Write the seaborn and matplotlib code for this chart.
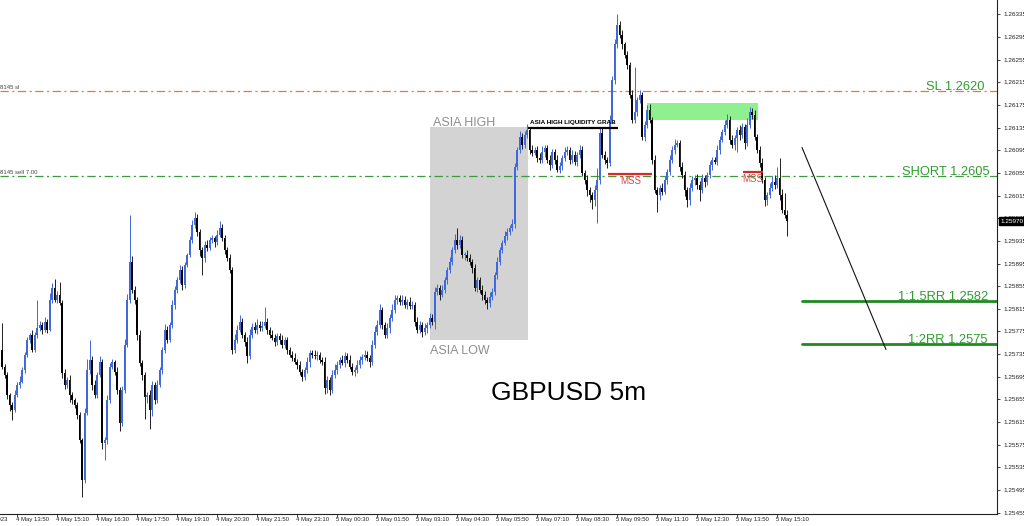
import numpy as np
import pandas as pd
import matplotlib
matplotlib.use("Agg")
import matplotlib.pyplot as plt
import matplotlib.transforms as mtransforms
from matplotlib.patches import Rectangle
import seaborn as sns

# ---------------- data ----------------
first_open = 1.25742
closes = [
    1.25713, 1.25698, 1.25663, 1.25645, 1.25637, 1.25663, 1.25681, 1.25686, 1.25707, 1.25734,
    1.25760, 1.25769, 1.25743, 1.25769, 1.25781, 1.25787, 1.25778, 1.25792, 1.25778, 1.25831,
    1.25852, 1.25831, 1.25840, 1.25826, 1.25702, 1.25681, 1.25690, 1.25663, 1.25654, 1.25645,
    1.25628, 1.25584, 1.25513, 1.25631, 1.25707, 1.25725, 1.25681, 1.25663, 1.25698, 1.25721,
    1.25578, 1.25584, 1.25654, 1.25713, 1.25721, 1.25704, 1.25672, 1.25614, 1.25672, 1.25751,
    1.25831, 1.25898, 1.25849, 1.25831, 1.25769, 1.25720, 1.25698, 1.25660, 1.25663, 1.25637,
    1.25681, 1.25654, 1.25681, 1.25707, 1.25743, 1.25778, 1.25760, 1.25787, 1.25822, 1.25849,
    1.25866, 1.25884, 1.25857, 1.25893, 1.25910, 1.25937, 1.25963, 1.25976, 1.25951, 1.25919,
    1.25905, 1.25928, 1.25923, 1.25937, 1.25940, 1.25933, 1.25946, 1.25958, 1.25940, 1.25919,
    1.25905, 1.25884, 1.25743, 1.25760, 1.25778, 1.25792, 1.25769, 1.25757, 1.25732, 1.25769,
    1.25783, 1.25778, 1.25787, 1.25781, 1.25785, 1.25792, 1.25778, 1.25769, 1.25764, 1.25757,
    1.25767, 1.25760, 1.25751, 1.25760, 1.25743, 1.25734, 1.25728, 1.25721, 1.25716, 1.25704,
    1.25695, 1.25707, 1.25721, 1.25737, 1.25734, 1.25732, 1.25734, 1.25725, 1.25721, 1.25675,
    1.25690, 1.25672, 1.25698, 1.25707, 1.25716, 1.25725, 1.25720, 1.25732, 1.25725, 1.25713,
    1.25704, 1.25707, 1.25716, 1.25725, 1.25730, 1.25734, 1.25728, 1.25721, 1.25751, 1.25774,
    1.25787, 1.25813, 1.25787, 1.25769, 1.25781, 1.25799, 1.25813, 1.25831, 1.25834, 1.25827,
    1.25831, 1.25822, 1.25827, 1.25820, 1.25822, 1.25792, 1.25778, 1.25787, 1.25774, 1.25781,
    1.25787, 1.25799, 1.25792, 1.25845, 1.25852, 1.25840, 1.25849, 1.25866, 1.25884, 1.25898,
    1.25919, 1.25937, 1.25928, 1.25937, 1.25910, 1.25910, 1.25905, 1.25898, 1.25887, 1.25852,
    1.25866, 1.25849, 1.25840, 1.25831, 1.25826, 1.25836, 1.25845, 1.25875, 1.25898, 1.25919,
    1.25932, 1.25944, 1.25951, 1.25958, 1.25965, 1.26066, 1.26096, 1.26119, 1.26105, 1.26122,
    1.26131, 1.26096, 1.26091, 1.26096, 1.26082, 1.26078, 1.26092, 1.26099, 1.26078, 1.26069,
    1.26092, 1.26078, 1.26061, 1.26068, 1.26082, 1.26092, 1.26096, 1.26078, 1.26087, 1.26075,
    1.26087, 1.26096, 1.26055, 1.26043, 1.26025, 1.26016, 1.26007, 1.26025, 1.26043, 1.26126,
    1.26087, 1.26078, 1.26073, 1.26149, 1.26220, 1.26282, 1.26317, 1.26299, 1.26282, 1.26264,
    1.26246, 1.26193, 1.26149, 1.26163, 1.26184, 1.26193, 1.26119, 1.26140, 1.26167, 1.26149,
    1.26078, 1.26025, 1.26016, 1.26029, 1.26022, 1.26043, 1.26057, 1.26078, 1.26096, 1.26105,
    1.26108, 1.26066, 1.26052, 1.26025, 1.26007, 1.26029, 1.26043, 1.26046, 1.26034, 1.26025,
    1.26046, 1.26039, 1.26052, 1.26069, 1.26078, 1.26075, 1.26096, 1.26114, 1.26128, 1.26140,
    1.26149, 1.26114, 1.26105, 1.26117, 1.26131, 1.26122, 1.26137, 1.26108, 1.26140, 1.26163,
    1.26158, 1.26119, 1.26096, 1.26073, 1.26043, 1.26007, 1.26016, 1.26029, 1.26039, 1.26034,
    1.26046, 1.26016, 1.25990, 1.25981, 1.25970,
]
# wick lengths in points (0.00001)
upper_wick = [
    48, 4, 6, 3, 5, 8, 4, 10, 6, 5,
    6, 4, 8, 5, 50, 6, 4, 8, 5, 12,
    8, 15, 6, 23, 5, 6, 4, 8, 5, 4,
    5, 4, 3, 8, 20, 35, 6, 8, 5, 10,
    6, 5, 8, 6, 5, 4, 8, 5, 6, 10,
    10, 83, 10, 6, 5, 8, 4, 6, 5, 8,
    6, 5, 8, 6, 5, 10, 6, 5, 8, 6,
    5, 8, 6, 5, 4, 6, 8, 10, 6, 5,
    5, 6, 8, 5, 6, 4, 8, 12, 6, 5,
    5, 6, 4, 10, 8, 12, 6, 5, 8, 10,
    6, 8, 10, 6, 8, 26, 6, 5, 8, 6,
    6, 5, 8, 6, 5, 4, 6, 8, 5, 6,
    5, 6, 8, 6, 5, 8, 6, 5, 4, 8,
    6, 5, 8, 10, 6, 5, 8, 6, 5, 8,
    6, 5, 8, 6, 5, 8, 6, 5, 8, 10,
    8, 10, 6, 5, 8, 6, 10, 8, 6, 5,
    8, 6, 5, 8, 6, 5, 8, 6, 5, 8,
    5, 8, 6, 8, 6, 5, 8, 6, 5, 8,
    6, 10, 20, 8, 6, 5, 8, 6, 5, 8,
    6, 5, 8, 6, 5, 8, 6, 5, 8, 6,
    5, 8, 6, 5, 8, 6, 5, 10, 6, 8,
    10, 6, 8, 5, 6, 8, 10, 6, 5, 8,
    6, 5, 8, 6, 5, 8, 6, 5, 8, 6,
    5, 8, 6, 5, 8, 6, 5, 8, 20, 8,
    8, 6, 5, 8, 6, 10, 18, 6, 8, 5,
    6, 5, 8, 80, 6, 8, 5, 6, 8, 10,
    5, 8, 6, 5, 8, 6, 5, 8, 6, 10,
    6, 5, 8, 6, 5, 8, 6, 5, 8, 6,
    8, 6, 5, 8, 6, 5, 8, 6, 5, 8,
    10, 6, 8, 5, 6, 8, 6, 5, 12, 8,
    6, 8, 5, 6, 8, 5, 6, 8, 10, 12,
    20, 35, 10, 30, 8,
]
lower_wick = [
    4, 6, 8, 10, 18, 5, 4, 6, 3, 5,
    4, 6, 5, 4, 6, 5, 8, 4, 6, 3,
    5, 4, 6, 5, 10, 8, 6, 12, 8, 6,
    8, 6, 30, 5, 4, 8, 10, 6, 5, 4,
    10, 30, 8, 5, 4, 6, 8, 15, 6, 5,
    4, 5, 6, 8, 10, 6, 8, 40, 12, 35,
    12, 8, 6, 5, 8, 6, 5, 4, 6, 8,
    6, 5, 8, 6, 5, 4, 6, 5, 8, 10,
    30, 8, 6, 5, 6, 8, 5, 4, 6, 8,
    6, 5, 8, 6, 5, 4, 6, 8, 12, 5,
    5, 6, 8, 5, 6, 4, 8, 6, 5, 8,
    6, 8, 5, 6, 8, 5, 6, 4, 8, 6,
    8, 6, 5, 8, 6, 5, 8, 6, 5, 10,
    8, 10, 6, 5, 8, 6, 5, 8, 6, 5,
    6, 8, 5, 6, 8, 5, 6, 8, 5, 6,
    5, 6, 8, 6, 5, 8, 6, 5, 8, 6,
    6, 5, 8, 6, 5, 8, 6, 5, 8, 6,
    8, 6, 5, 12, 6, 10, 5, 6, 8, 5,
    6, 5, 8, 6, 5, 8, 6, 5, 8, 6,
    8, 6, 10, 8, 12, 8, 6, 5, 8, 6,
    6, 5, 8, 6, 5, 8, 6, 5, 8, 6,
    5, 8, 6, 5, 8, 6, 5, 8, 6, 8,
    6, 8, 5, 6, 8, 5, 6, 8, 5, 6,
    8, 5, 6, 8, 10, 12, 15, 10, 58, 8,
    6, 8, 10, 5, 6, 8, 6, 5, 8, 6,
    8, 6, 5, 6, 8, 5, 6, 8, 5, 6,
    8, 6, 30, 8, 6, 5, 8, 6, 5, 8,
    5, 8, 6, 10, 12, 8, 6, 10, 8, 20,
    6, 8, 5, 6, 8, 5, 6, 8, 5, 6,
    5, 8, 6, 10, 25, 8, 6, 10, 5, 6,
    8, 6, 5, 8, 6, 10, 8, 6, 5, 8,
    6, 8, 5, 6, 27,
]

# x-axis: one bar per 5 minutes, bar 0 = 4 May 13:15
x_tick_labels = ["4 May 13:50", "4 May 15:10", "4 May 16:30", "4 May 17:50", "4 May 19:10",
                 "4 May 20:30", "4 May 21:50", "4 May 23:10", "5 May 00:30", "5 May 01:50",
                 "5 May 03:10", "5 May 04:30", "5 May 05:50", "5 May 07:10", "5 May 08:30",
                 "5 May 09:50", "5 May 11:10", "5 May 12:30", "5 May 13:50", "5 May 15:10"]
first_tick_bar = 7
bars_per_tick = 16
y_tick_values = [1.26335 - 0.0004 * i for i in range(23)]

sl_level = 1.2620
short_level = 1.2605
rr15_level = 1.25828
rr2_level = 1.25753
current_price = 1.25970

# ---------------- build frame ----------------
n = len(closes)
assert len(upper_wick) == n and len(lower_wick) == n, (n, len(upper_wick), len(lower_wick))
bar_idx = np.arange(1, n + 1)
close_arr = np.array(closes)
open_arr = np.concatenate([[first_open], close_arr[:-1]])
high_arr = np.maximum(open_arr, close_arr) + np.array(upper_wick) * 1e-5
low_arr = np.minimum(open_arr, close_arr) - np.array(lower_wick) * 1e-5
df = pd.DataFrame({"bar": bar_idx, "open": open_arr, "close": close_arr,
                   "high": high_arr, "low": low_arr})
df["bull"] = df["close"] >= df["open"]

# ---------------- style ----------------
sns.set_theme(style="white")
plt.rcParams["font.family"] = ["Liberation Sans", "DejaVu Sans"]
plt.rcParams["lines.scale_dashes"] = False

fig = plt.figure(figsize=(10.24, 5.26), dpi=100)
ax = fig.add_axes([0, 12 / 526, 997 / 1024, 514 / 526])
ax.set_xlim(0.2, 399)
ax.set_ylim(1.254524, 1.263606)

bull_col = "#3f68dc"
bear_col = "#000000"

# Asia session box
ax.add_patch(Rectangle((172.2, 1.25760), 211.4 - 172.2, 1.26137 - 1.25760,
                       facecolor="#d3d3d3", edgecolor="none", zorder=0))
# green zone
ax.add_patch(Rectangle((259.0, 1.26149), 303.4 - 259.0, 1.26179 - 1.26149,
                       facecolor="#8ef08e", edgecolor="none", zorder=0.5))

# horizontal order lines
ax.axhline(sl_level, color="#f0704c", lw=0.9, ls=(0, (6, 2.5, 1.5, 2.5)), zorder=0.6)
ax.axhline(short_level, color="#3f9a3f", lw=0.9, ls=(0, (6, 2.5, 1.5, 2.5)), zorder=0.6)

# candles
for bull, wick_col, body_col in [(True, bull_col, bull_col), (False, "#202020", bear_col)]:
    d = df[df["bull"] == bull]
    ax.vlines(d["bar"], d["low"], d["high"], color=wick_col, lw=0.7, zorder=2)
    h = (d["close"] - d["open"]).abs().clip(lower=1.5e-5)
    ax.bar(d["bar"], h, bottom=np.minimum(d["open"], d["close"]), width=0.75,
           color=body_col, linewidth=0, zorder=3)

# RR lines and diagonal
lines_df = pd.DataFrame({"bar": [321.0, 399.0, 321.0, 399.0],
                         "price": [rr15_level, rr15_level, rr2_level, rr2_level],
                         "name": ["rr15", "rr15", "rr2", "rr2"]})
sns.lineplot(data=lines_df, x="bar", y="price", units="name", estimator=None,
             color="#1f8a1f", lw=2.0, ax=ax, zorder=4, legend=False)
diag = pd.DataFrame({"bar": [321.0, 354.6], "price": [1.26100, 1.25743]})
sns.lineplot(data=diag, x="bar", y="price", color="#111111", lw=0.8, ax=ax, zorder=4)

# liquidity grab line & MSS lines
ax.plot([211.4, 247.4], [1.26135, 1.26135], color="black", lw=1.6, zorder=4,
        solid_capstyle="butt")
ax.plot([243.4, 261.0], [1.26054, 1.26054], color="#d42a2a", lw=1.6, zorder=4,
        solid_capstyle="butt")
ax.plot([297.4, 305.4], [1.26057, 1.26057], color="#d42a2a", lw=1.6, zorder=4,
        solid_capstyle="butt")

# texts
ax.text(173.4, 1.26144, "ASIA HIGH", color="#8e8e8e", fontsize=9, va="center", ha="left")
ax.text(172.2, 1.25741, "ASIA LOW", color="#8e8e8e", fontsize=9, va="center", ha="left")
ax.text(212.2, 1.26144, "ASIA HIGH LIQUIDITY GRAB", color="black", fontsize=4.6,
        va="center", ha="left", fontweight="bold")
ax.text(252.6, 1.26040, "MSS", color="#e04444", fontsize=7, va="center", ha="center")
ax.text(301.2, 1.26045, "MSS", color="#e04444", fontsize=7, va="center", ha="center")
ax.text(227.8, 1.25667, "GBPUSD 5m", color="black", fontsize=19, va="center", ha="center")

green_txt = "#2e9e2e"
fs_lbl = 9.3
ax.text(394.0, sl_level + 0.00001, "SL 1.2620", color=green_txt, fontsize=fs_lbl,
        ha="right", va="baseline")
ax.text(396.2, short_level + 0.00001, "SHORT 1.2605", color=green_txt, fontsize=fs_lbl,
        ha="right", va="baseline")
ax.text(395.4, rr15_level + 0.00002, "1:1.5RR 1.2582", color=green_txt, fontsize=fs_lbl,
        ha="right", va="baseline")
ax.text(395.4, rr2_level + 0.00002, "1:2RR 1.2575", color=green_txt, fontsize=fs_lbl,
        ha="right", va="baseline")

ax.text(0.3, sl_level + 0.00002, "8145 sl", color="#444444", fontsize=4.3,
        ha="left", va="bottom")
ax.text(0.3, short_level + 0.00002, "8145 sell 7.00", color="#444444", fontsize=4.3,
        ha="left", va="bottom")

# axes / ticks
for s in ["top", "left"]:
    ax.spines[s].set_visible(False)
for s in ["right", "bottom"]:
    ax.spines[s].set_color("#222222")
    ax.spines[s].set_linewidth(0.8)

ax.yaxis.tick_right()
ax.set_yticks(y_tick_values)
ax.set_yticklabels([f"{v:.5f}" for v in y_tick_values])
ax.tick_params(axis="y", right=True, length=2.5, width=0.6, pad=2, labelsize=4.6,
               labelcolor="#222222", color="#222222")

xt = [first_tick_bar + bars_per_tick * i for i in range(len(x_tick_labels))]
ax.set_xticks(xt)
ax.set_xticklabels(x_tick_labels, ha="left")
ax.tick_params(axis="x", bottom=True, length=2.0, width=0.6, pad=0.5, labelsize=4.3,
               labelcolor="#222222", color="#222222")
offset = mtransforms.ScaledTranslation(-1 / 100, 0, fig.dpi_scale_trans)
for lab in ax.get_xticklabels():
    lab.set_transform(lab.get_transform() + offset)

# cut-off first label at the far left
trans = mtransforms.blended_transform_factory(ax.transData, ax.transAxes)
ax.text(first_tick_bar - bars_per_tick - 0.4, -0.0065, "4 May 2023", transform=trans,
        fontsize=4.3, color="#222222", ha="left", va="top", clip_on=False)

# current price box
trans_y = mtransforms.blended_transform_factory(ax.transAxes, ax.transData)
ax.text(1.003, current_price, f"{current_price:.5f}", transform=trans_y, color="white",
        fontsize=4.6, ha="left", va="center", clip_on=False, zorder=10,
        bbox=dict(facecolor="black", edgecolor="black", pad=1.0))

ax.grid(False)
fig.savefig("out.png", dpi=100)
